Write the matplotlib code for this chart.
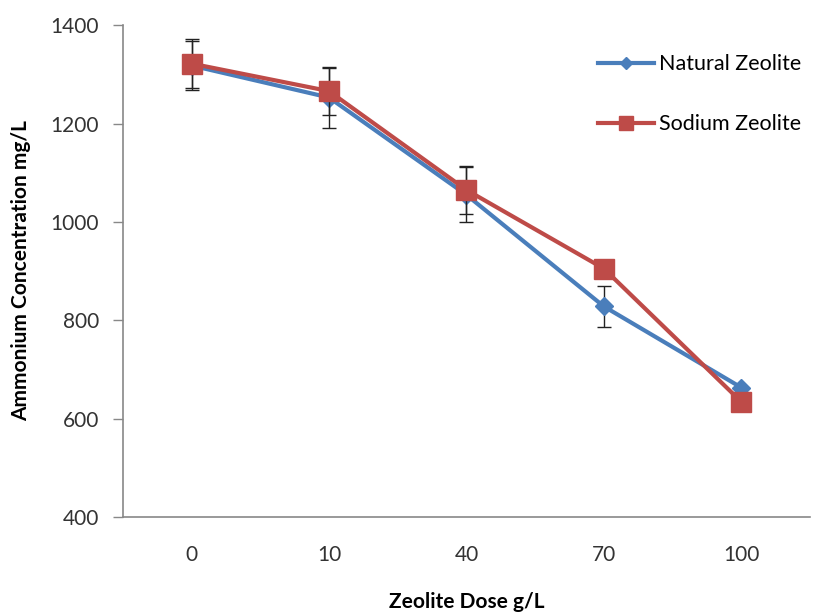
import matplotlib
matplotlib.use("Agg")
import matplotlib.pyplot as plt
import numpy as np

plt.rcParams['font.family'] = ['Lato', 'DejaVu Sans']

doses = ["0", "10", "40", "70", "100"]
natural = [1318, 1253, 1055, 828, 663]
natural_err = [50, 62, 56, 42, 0]
sodium = [1322, 1266, 1065, 905, 634]
sodium_err = [50, 48, 48, 0, 0]

blue = "#4A7EBB"
red = "#BE4B48"

fig = plt.figure(figsize=(8.19, 6.16), dpi=100)
ax = fig.add_axes([0.150, 0.161, 0.839, 0.798])

x = np.arange(len(doses))
ax.errorbar(x, natural, yerr=natural_err, color=blue, lw=3, marker="D",
            markersize=9, ecolor="#222222", elinewidth=1.0, capsize=5,
            capthick=1.0, label="Natural Zeolite", zorder=2)
ax.errorbar(x, sodium, yerr=sodium_err, color=red, lw=3, marker="s",
            markersize=14, ecolor="#222222", elinewidth=1.0, capsize=5,
            capthick=1.0, label="Sodium Zeolite", zorder=3)

ax.set_xlim(-0.5, len(doses) - 0.5)
ax.set_ylim(400, 1400)
ax.set_xticks(x)
ax.set_xticklabels(doses)
ax.set_yticks(np.arange(400, 1401, 200))
ax.tick_params(axis="x", length=0, pad=20, labelsize=15, colors="#333333")
ax.tick_params(axis="y", length=7, width=1, color="#888888", labelsize=15,
               labelcolor="#333333", pad=10)

for s in ["top", "right"]:
    ax.spines[s].set_visible(False)
for s in ["left", "bottom"]:
    ax.spines[s].set_color("#888888")
    ax.spines[s].set_linewidth(1.2)

ax.set_xlabel("Zeolite Dose g/L", fontsize=15, fontweight="bold", labelpad=20)
ax.set_ylabel("Ammonium Concentration mg/L", fontsize=15, fontweight="bold", labelpad=14)

handles, labels = ax.get_legend_handles_labels()
handles = [h[0] for h in handles]
ax.legend(handles, labels, loc="upper right", bbox_to_anchor=(1.015, 0.98),
          frameon=False, fontsize=15.5, labelspacing=1.85, handlelength=2.6,
          handletextpad=0.2, markerscale=0.7)

fig.savefig("out.png", dpi=100)
